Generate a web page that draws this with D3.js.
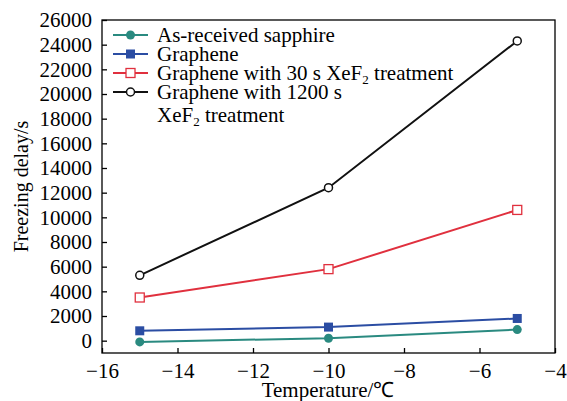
<!DOCTYPE html>
<html><head><meta charset="utf-8">
<script src="https://cdn.jsdelivr.net/npm/d3@7"></script>
<style>body{margin:0;background:#fff}</style>
</head><body>
<svg id="c" width="567" height="401"></svg>
<script>
const temps = [-15, -10, -5];
const seriesNames = ["As-received sapphire", "Graphene", "Graphene with 30 s XeF2 treatment", "Graphene with 1200 s XeF2 treatment"];
const sapphire = [-100, 200, 900];
const graphene = [800, 1100, 1800];
const xef30 = [3500, 5800, 10600];
const xef1200 = [5300, 12400, 24300];
const xTicks = [-16, -14, -12, -10, -8, -6, -4];
const yTicks = [0, 2000, 4000, 6000, 8000, 10000, 12000, 14000, 16000, 18000, 20000, 22000, 24000, 26000];

const FONT = "Liberation Serif";
const svg = d3.select("#c");
const L = 102, R = 555, T = 20, B = 353;
const x = d3.scaleLinear().domain([-16, -4]).range([L, R]);
const y = d3.scaleLinear().domain([-1000, 26000]).range([B, T]);

const series = [
  {name: seriesNames[0], vals: sapphire, color: "#2a8a80", marker: "circleFill"},
  {name: seriesNames[1], vals: graphene, color: "#2b4da3", marker: "squareFill"},
  {name: seriesNames[2], vals: xef30, color: "#e0303e", marker: "squareOpen"},
  {name: seriesNames[3], vals: xef1200, color: "#111111", marker: "circleOpen"}
];

svg.append("rect").attr("x", L).attr("y", T).attr("width", R - L).attr("height", B - T)
  .attr("fill", "none").attr("stroke", "#000").attr("stroke-width", 1.3);

const xAxis = d3.axisBottom(x).tickValues(xTicks).tickSizeInner(-5).tickSizeOuter(0).tickPadding(10)
  .tickFormat(d => d < 0 ? "\u2212" + Math.abs(d) : String(d));
const gx = svg.append("g").attr("transform", `translate(0,${B})`).call(xAxis);
gx.attr("font-family", FONT).attr("font-size", 21);
gx.select(".domain").remove();
gx.selectAll("text").attr("fill", "#000");
gx.selectAll("line").attr("stroke-width", 1.3);

const yAxis = d3.axisLeft(y).tickValues(yTicks).tickSizeInner(-5).tickSizeOuter(0).tickPadding(10)
  .tickFormat(d3.format("d"));
const gy = svg.append("g").attr("transform", `translate(${L},0)`).call(yAxis);
gy.attr("font-family", FONT).attr("font-size", 21);
gy.select(".domain").remove();
gy.selectAll("text").attr("fill", "#000");
gy.selectAll("line").attr("stroke-width", 1.3);

svg.append("text").attr("x", 328).attr("y", 397).attr("text-anchor", "middle")
  .attr("font-size", 21).attr("font-family", FONT).text("Temperature/\u2103");
svg.append("text").attr("transform", `translate(28,${(T + B) / 2}) rotate(-90)`).attr("text-anchor", "middle")
  .attr("font-size", 20).attr("font-family", FONT).text("Freezing delay/s");

function drawMarker(g, m, cx, cy, color) {
  if (m === "circleFill") g.append("circle").attr("cx", cx).attr("cy", cy).attr("r", 4.5).attr("fill", color);
  else if (m === "circleOpen") g.append("circle").attr("cx", cx).attr("cy", cy).attr("r", 4).attr("fill", "#fff").attr("stroke", color).attr("stroke-width", 1.5);
  else if (m === "squareFill") g.append("rect").attr("x", cx - 4.5).attr("y", cy - 4.5).attr("width", 9).attr("height", 9).attr("fill", color);
  else g.append("rect").attr("x", cx - 4.5).attr("y", cy - 4.5).attr("width", 9).attr("height", 9).attr("fill", "#fff").attr("stroke", color).attr("stroke-width", 1.3);
}

const line = d3.line().x((d, i) => x(temps[i])).y(d => y(d));
series.forEach(s => {
  const g = svg.append("g");
  g.append("path").datum(s.vals).attr("d", line).attr("fill", "none").attr("stroke", s.color).attr("stroke-width", 2);
  s.vals.forEach((v, i) => drawMarker(g, s.marker, x(temps[i]), y(v), s.color));
});

const legY = [35, 54, 73, 92];
series.forEach((s, i) => {
  const g = svg.append("g");
  g.append("line").attr("x1", 113).attr("x2", 148).attr("y1", legY[i]).attr("y2", legY[i]).attr("stroke", s.color).attr("stroke-width", 2);
  drawMarker(g, s.marker, 130.5, legY[i], s.color);
});
const fs = 21;
function legText(yy, parts) {
  const t = svg.append("text").attr("x", 157).attr("y", yy + 7).attr("font-size", fs).attr("font-family", FONT);
  parts.forEach(p => {
    const ts = t.append("tspan").text(p.t);
    if (p.sub) ts.attr("font-size", 13).attr("dy", 4);
    if (p.after) ts.attr("dy", -4);
  });
}
legText(legY[0], [{t: "As-received sapphire"}]);
legText(legY[1], [{t: "Graphene"}]);
legText(legY[2], [{t: "Graphene with 30 s XeF"}, {t: "2", sub: true}, {t: " treatment", after: true}]);
legText(legY[3], [{t: "Graphene with 1200 s"}]);
legText(legY[3] + 23, [{t: "XeF"}, {t: "2", sub: true}, {t: " treatment", after: true}]);
</script>
</body></html>
